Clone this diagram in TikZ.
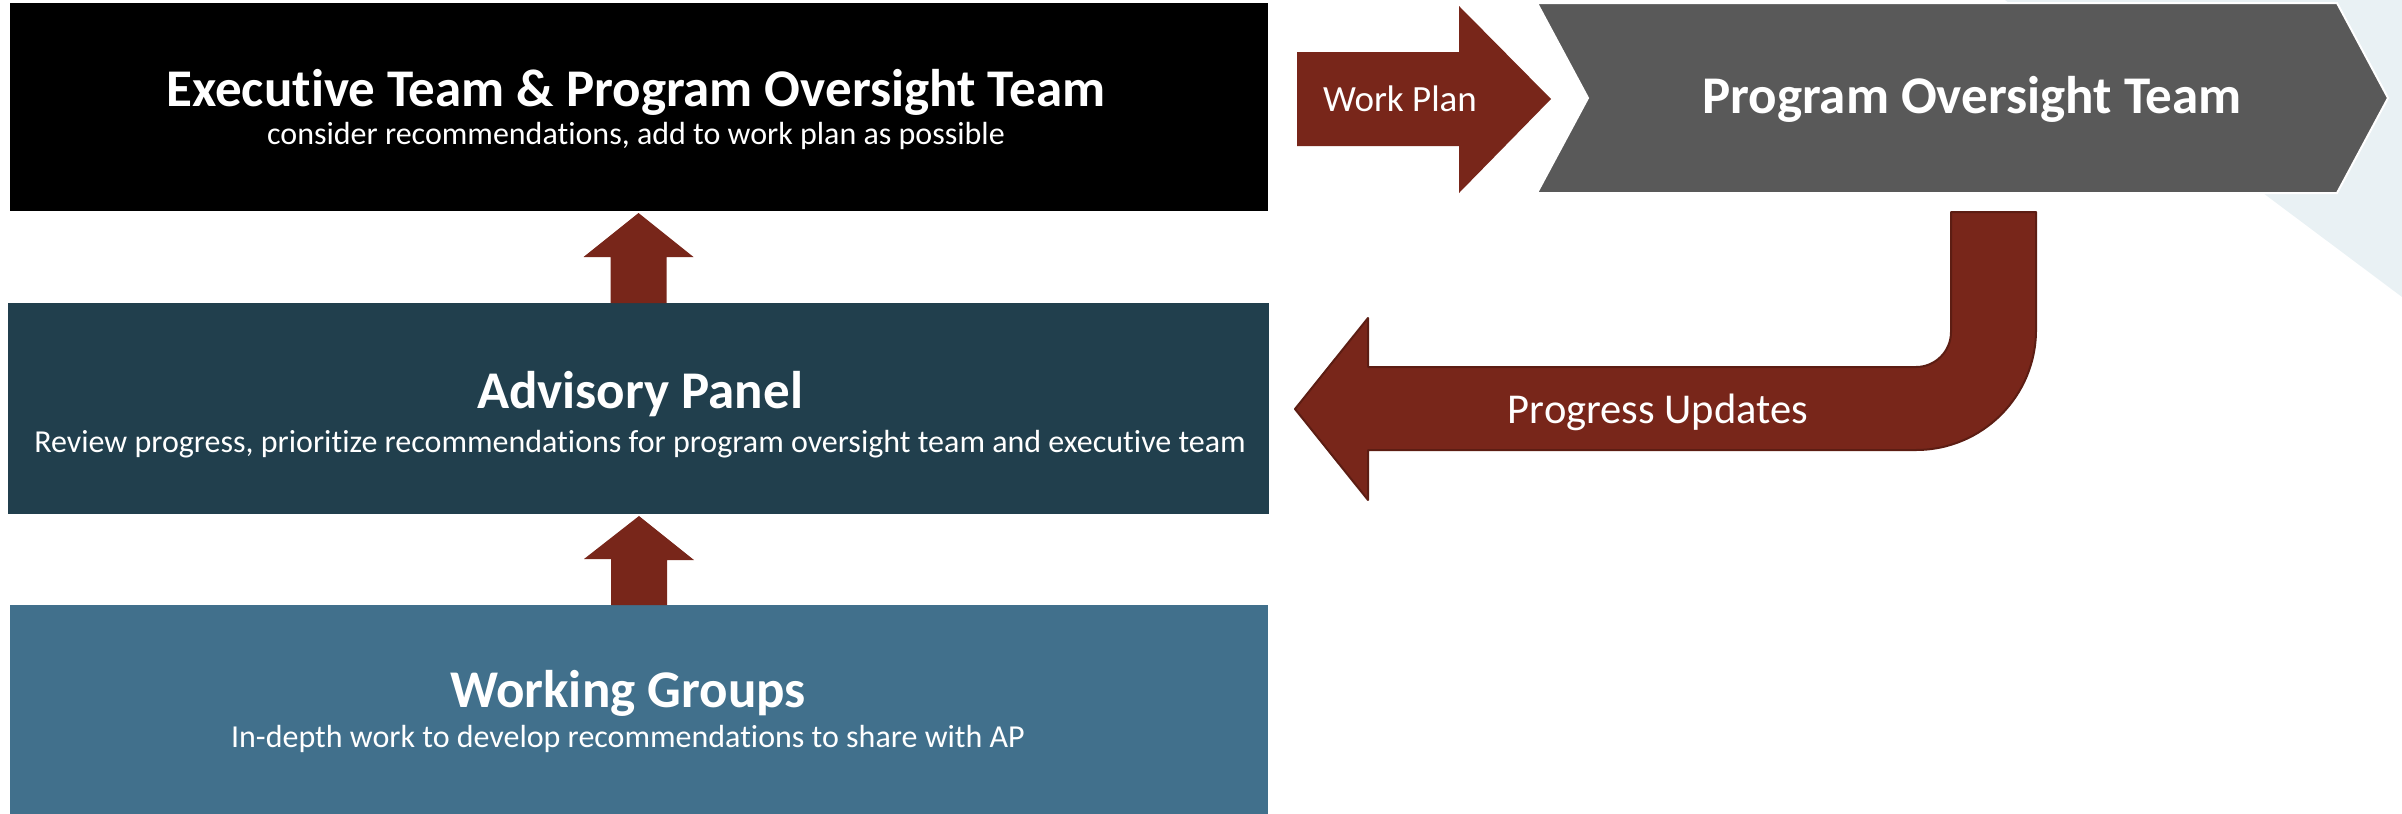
\documentclass[tikz,border=0pt]{standalone}
\usepackage{fontspec}
\setmainfont{Carlito}[Ligatures=NoCommon]
\usetikzlibrary{calc}
\definecolor{arrowred}{HTML}{78261A}
\definecolor{arrowedge}{HTML}{5C1D13}
\definecolor{apcol}{HTML}{213F4D}
\definecolor{wgcol}{HTML}{41708C}
\definecolor{potcol}{HTML}{595959}
\definecolor{bgblue}{HTML}{E9F1F4}
\tikzset{
  panel/.style={rectangle, inner sep=0pt, outer sep=0pt, draw=none},
  ttl/.style={text=white, font=\bfseries\fontsize{53}{60}\selectfont, anchor=base, inner sep=0pt},
  sub/.style={text=white, font=\fontsize{32}{38}\selectfont, anchor=base, inner sep=0pt},
  lbl/.style={text=white, anchor=base, inner sep=0pt},
  blockarrow/.style={fill=arrowred},
  uturn/.style={fill=arrowred, draw=arrowedge, line width=2pt, line join=round},
  chevron/.style={fill=potcol, draw=white, line width=2pt},
}
\newcommand\UpBlock[2]{%
  \fill[blockarrow] ($(#1.north)+(-28,0)$) -- ++(0,-46) -- ++(-27,0)
    -- ($(#1.north |- #2.south)+(0,2)$) -- ++(55,44) -- ++(-27,0)
    -- ($(#1.north)+(28,0)$) -- cycle;}
\begin{document}
\begin{tikzpicture}[x=1pt,y=-1pt]
\useasboundingbox (0,0) rectangle (2402,814);
% background triangle
\fill[bgblue] (2005,0) -- (2402,0) -- (2402,297) -- cycle;

% panels
\node[panel, fill=black, minimum width=1258pt, minimum height=208pt] (exec) at (639,107) {};
\node[panel, fill=apcol, minimum width=1261pt, minimum height=211pt] (ap) at (638.5,408.5) {};
\node[panel, fill=wgcol, minimum width=1258pt, minimum height=212pt] (wg) at (639,711) {};

% panel texts
\node[ttl] (exectitle) at (636,106) {Executive Team \& Program Oversight Team};
\node[sub] (execsub) at (636,144) {consider recommendations, add to work plan as possible};
\node[ttl] (aptitle) at (640,408) {Advisory Panel};
\node[sub] (apsub) at (640,452) {Review progress, prioritize recommendations for program oversight team and executive team};
\node[ttl] (wgtitle) at (628,707) {Working Groups};
\node[sub] (wgsub) at (628,747) {In-depth work to develop recommendations to share with AP};

% up arrows
\UpBlock{ap}{exec}
\UpBlock{wg}{ap}

% program oversight chevron
\coordinate (potnw) at (1537,3);
\coordinate (potne) at (2337,3);
\coordinate (pottip) at (2388,98);
\coordinate (potse) at (2337,193);
\coordinate (potsw) at (1537,193);
\coordinate (potnotch) at (1588,98);
\fill[chevron] (potnw) -- (potne) -- (pottip) -- (potse) -- (potsw) -- (potnotch) -- cycle;
\node[ttl] (pot) at (1972,113) {Program Oversight Team};

% work plan arrow
\coordinate (wpa) at (1297,99);
\coordinate (wpb) at (1551,99);
\fill[blockarrow] ($(wpa)+(0,-47)$) -- ++(162,0) -- ++(0,-46) -- (wpb) -- ++(-92,94) -- ++(0,-47) -- ++(-162,0) -- cycle;
\node[lbl, font=\fontsize{37}{44}\selectfont] (wp) at (1400,111) {Work Plan};

% progress updates U-turn arrow
\coordinate (pustart) at (1993.5,212);
\coordinate (putip) at (1295,409);
\draw[uturn] ($(pustart)+(-42.5,0)$) -- ++(85,0) -- (2036,330)
  .. controls (2036,396.3) and (1982.3,450) .. (1916,450)
  -- (1368,450) -- (1368,500) -- (putip) -- (1368,318) -- (1368,367) -- (1916,367)
  .. controls (1935.3,367) and (1951,351.3) .. (1951,332) -- cycle;
\node[lbl, font=\fontsize{42.5}{50}\selectfont] (pu) at (1658,423) {Progress Updates};
\end{tikzpicture}
\end{document}
